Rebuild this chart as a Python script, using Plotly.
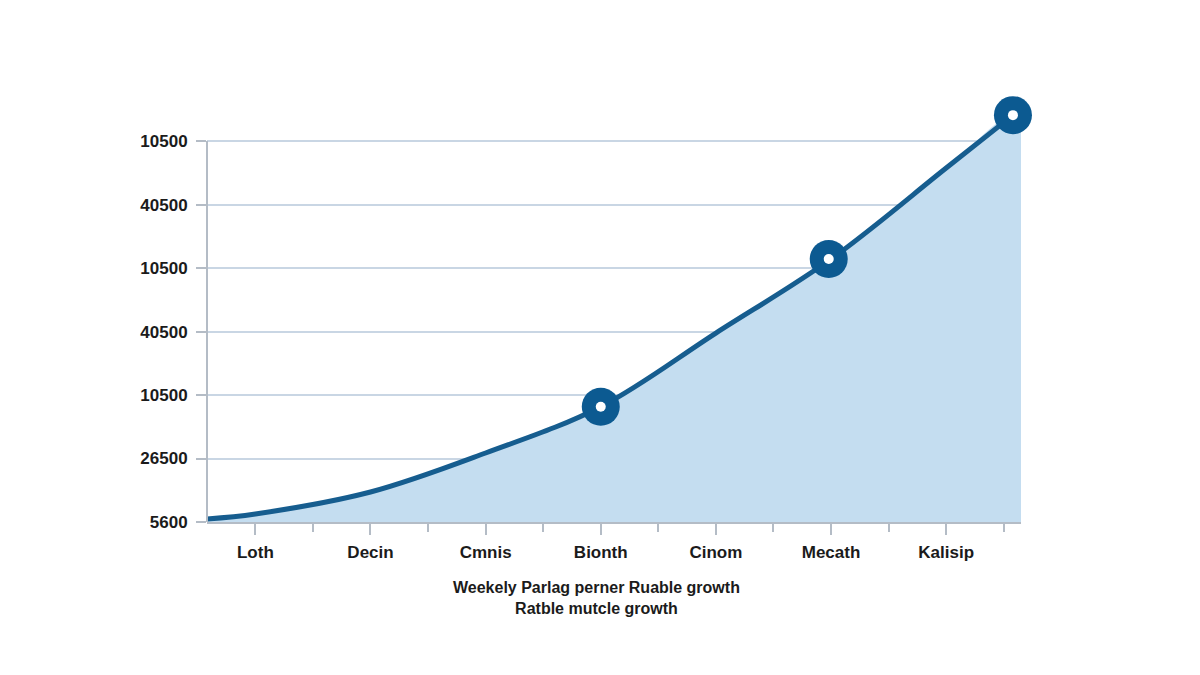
import plotly.graph_objects as go

# categories along the bottom
categories = ["Loth", "Decin", "Cmnis", "Bionth", "Cinom", "Mecath", "Kalisip"]

# growth curve (x = position in category units)
curve_x = [-0.42, 0, 1, 2, 3, 4, 5, 6, 6.58]
curve_y = [470, 1260, 4720, 10870, 18160, 29760, 41420, 55750, 64090]

# the shaded area runs on a little past the last point, to the plot edge
area_end_x = 6.65
area_end_y = 61700

# highlighted points
marker_x = [3, 4.98, 6.58]
marker_y = [18160, 41420, 64090]

# y axis tick labels as printed (bottom to top)
y_tickvals = [0, 10000, 20000, 30000, 40000, 50000, 60000]
y_ticktext = ["5600", "26500", "10500", "40500", "10500", "40500", "10500"]

line_blue = "#165d8f"
dot_blue = "#0c5a91"
fill_blue = "#c4ddf0"
grid_col = "#c9d6e4"
axis_col = "#b4bcc6"
text_col = "#1b1b1b"

fig = go.Figure()

# area under the curve
fig.add_trace(go.Scatter(
    x=curve_x + [area_end_x], y=curve_y + [area_end_y],
    mode="lines",
    line={"color": "rgba(0,0,0,0)", "width": 0, "shape": "spline", "smoothing": 1.0},
    fill="tozeroy",
    fillcolor=fill_blue,
    hoverinfo="skip",
    cliponaxis=False,
))

# the curve itself
fig.add_trace(go.Scatter(
    x=curve_x, y=curve_y,
    mode="lines",
    line={"color": line_blue, "width": 5, "shape": "spline", "smoothing": 1.0},
    hoverinfo="skip",
    cliponaxis=False,
))

# ring markers: big dark dot with a small white centre
fig.add_trace(go.Scatter(
    x=marker_x, y=marker_y,
    mode="markers",
    marker={"size": 38, "color": dot_blue},
    cliponaxis=False,
))
fig.add_trace(go.Scatter(
    x=marker_x, y=marker_y,
    mode="markers",
    marker={"size": 10, "color": "white"},
    cliponaxis=False,
))

# left axis line only spans the gridded part
fig.add_shape(
    type="line", xref="paper", yref="y",
    x0=0, x1=0, y0=y_tickvals[0], y1=y_tickvals[-1],
    line={"color": axis_col, "width": 2},
)

fig.update_layout(
    width=1200, height=675,
    margin={"l": 199, "r": 187, "t": 95, "b": 161},
    paper_bgcolor="white",
    plot_bgcolor="white",
    showlegend=False,
    font={"family": "Liberation Sans, Arial, sans-serif", "color": text_col},
    xaxis={
        "range": [-0.42, 6.65],
        "tickmode": "array",
        "tickvals": list(range(len(categories))),
        "ticktext": categories,
        "ticks": "outside",
        "ticklen": 11,
        "tickwidth": 1.5,
        "tickcolor": axis_col,
        "ticklabelstandoff": 3,
        "tickfont": {"size": 17, "weight": "bold", "color": text_col},
        "showgrid": False,
        "zeroline": False,
        "showline": True,
        "linecolor": axis_col,
        "linewidth": 2,
        "minor": {
            "tickvals": [i + 0.5 for i in range(len(categories))],
            "ticks": "outside",
            "ticklen": 8,
            "tickwidth": 1.5,
            "tickcolor": axis_col,
            "showgrid": False,
        },
    },
    yaxis={
        "range": [0, 66000],
        "tickmode": "array",
        "tickvals": y_tickvals,
        "ticktext": y_ticktext,
        "ticks": "outside",
        "ticklen": 10,
        "tickwidth": 1.5,
        "tickcolor": axis_col,
        "ticklabelstandoff": 5,
        "tickfont": {"size": 17, "weight": "bold", "color": text_col},
        "showgrid": True,
        "gridcolor": grid_col,
        "gridwidth": 1.5,
        "zeroline": False,
        "showline": False,
    },
)

fig.add_annotation(
    text="Weekely Parlag perner Ruable growth<br>Ratble mutcle growth",
    xref="paper", yref="paper",
    x=0.479, y=-0.181,
    xanchor="center", yanchor="middle",
    showarrow=False,
    font={"size": 16, "weight": "bold", "color": text_col},
    align="center",
)

fig.write_html("out.html")
